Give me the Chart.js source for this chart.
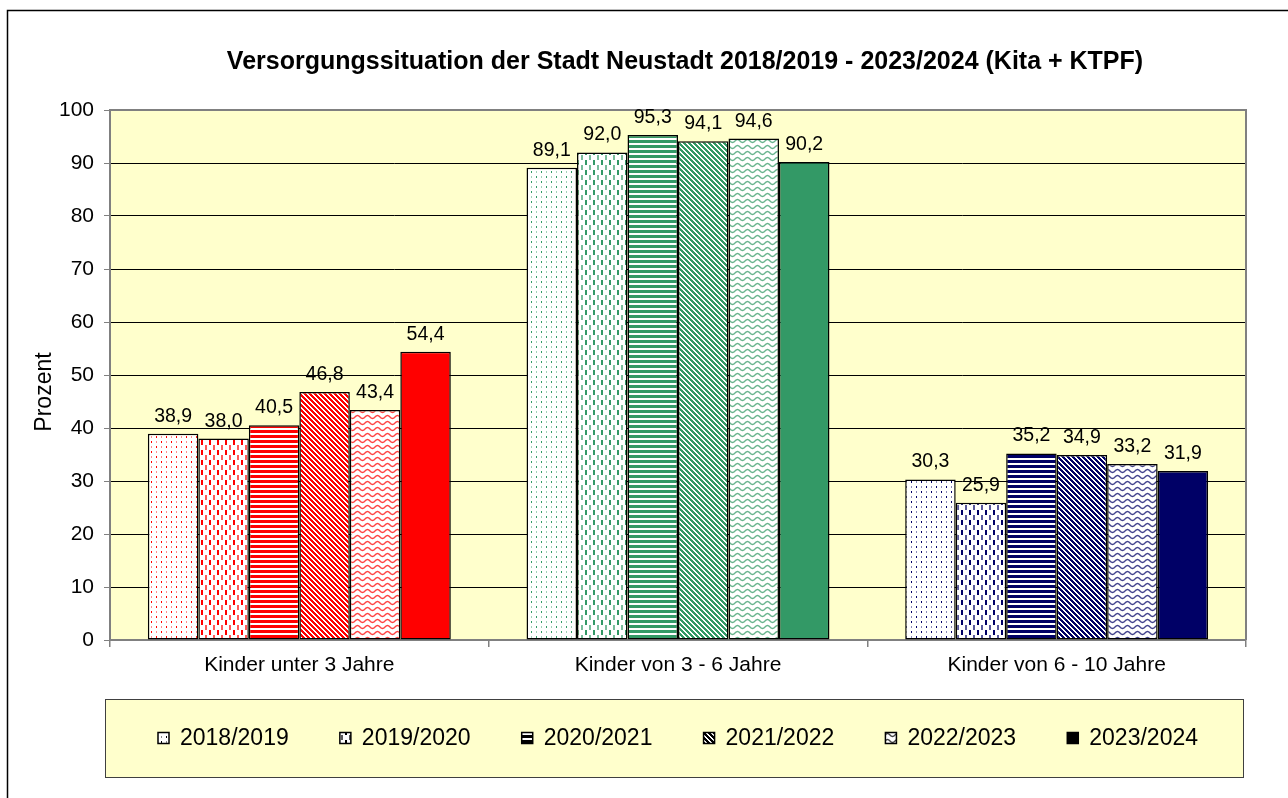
<!DOCTYPE html>
<html><head><meta charset="utf-8">
<script src="https://cdn.jsdelivr.net/npm/chart.js@4"></script>
<style>html,body{margin:0;padding:0;background:#fff;overflow:hidden}</style>
</head><body>
<canvas id="c" width="1288" height="798" style="display:block;width:1288px;height:798px"></canvas>
<script>
const TITLE = 'Versorgungssituation der Stadt Neustadt 2018/2019 - 2023/2024 (Kita + KTPF)';
const AXIS_TITLE = 'Prozent';
const categories = ['Kinder unter 3 Jahre', 'Kinder von 3 - 6 Jahre', 'Kinder von 6 - 10 Jahre'];
const seriesLabels = ['2018/2019', '2019/2020', '2020/2021', '2021/2022', '2022/2023', '2023/2024'];
const v2018 = [38.9, 89.1, 30.3];
const v2019 = [38.0, 92.0, 25.9];
const v2020 = [40.5, 95.3, 35.2];
const v2021 = [46.8, 94.1, 34.9];
const v2022 = [43.4, 94.6, 33.2];
const v2023 = [54.4, 90.2, 31.9];
const seriesValues = [v2018, v2019, v2020, v2021, v2022, v2023];
const yMin = 0, yMax = 100, yStep = 10;

const FONT = '"Liberation Sans", Arial, sans-serif';
const catColors = ['#FF0000', '#339966', '#000066'];
const patternTypes = ['dots', 'vdash', 'hstripe', 'diag', 'wave', 'solid'];

const canvas = document.getElementById('c');
const mainCtx = canvas.getContext('2d');

function tile(w, h, draw) {
  const c = document.createElement('canvas');
  c.width = w; c.height = h;
  const x = c.getContext('2d');
  x.fillStyle = '#fff'; x.fillRect(0, 0, w, h);
  draw(x);
  return c;
}
function pattern(type, color) {
  let t;
  switch (type) {
    case 'dots':
      t = tile(10, 10, x => {
        x.fillStyle = color;
        x.fillRect(1, 1, 1, 2); x.fillRect(6, 6, 1, 2);
        x.globalAlpha = 0.45;
        x.fillRect(1, 6, 1, 2); x.fillRect(6, 1, 1, 2);
      }); break;
    case 'vdash':
      t = tile(8, 10, x => {
        x.fillStyle = color;
        x.fillRect(1, 0, 2, 5);
        x.globalAlpha = 0.65;
        x.fillRect(5, 5, 2, 5);
      }); break;
    case 'hstripe':
      t = tile(4, 5, x => { x.fillStyle = color; x.fillRect(0, 0, 4, 3); }); break;
    case 'diag':
      t = tile(5, 5, x => {
        x.fillStyle = color;
        for (let i = 0; i < 5; i++) for (let j = 0; j < 5; j++)
          if ((((i - j) % 5) + 5) % 5 < 3) x.fillRect(i, j, 1, 1);
      }); break;
    case 'wave':
      t = tile(10, 6, x => {
        x.strokeStyle = color; x.lineWidth = 1.4; x.globalAlpha = 0.75;
        x.beginPath();
        for (let i = -1; i <= 11; i += 0.5) {
          const y = 3 + 1.5 * Math.sin(i / 10 * 2 * Math.PI);
          if (i === -1) x.moveTo(i, y); else x.lineTo(i, y);
        }
        x.stroke();
      }); break;
    default:
      return color;
  }
  return mainCtx.createPattern(t, 'repeat');
}

const datasets = seriesValues.map((vals, si) => ({
  label: seriesLabels[si],
  data: vals,
  backgroundColor: catColors.map(c => pattern(patternTypes[si], c)),
  borderColor: '#000',
  borderWidth: 1.5,
  borderSkipped: false,
  barPercentage: 1.0,
  categoryPercentage: 0.8
}));

const legendPatterns = patternTypes.map(t => pattern(t, '#000'));

const bgPlugin = {
  id: 'bgPlugin',
  beforeDraw(chart) {
    const { ctx, chartArea: a } = chart;
    ctx.save();
    ctx.fillStyle = '#fff';
    ctx.fillRect(0, 0, chart.width, chart.height);
    ctx.strokeStyle = '#000'; ctx.lineWidth = 1.5;
    ctx.beginPath();
    ctx.moveTo(7.5, chart.height); ctx.lineTo(7.5, 10.5); ctx.lineTo(chart.width, 10.5);
    ctx.stroke();
    ctx.fillStyle = '#FFFFCC';
    ctx.fillRect(a.left, a.top, a.right - a.left, a.bottom - a.top);
    ctx.fillStyle = '#000';
    ctx.font = 'bold 25px ' + FONT;
    ctx.textAlign = 'center'; ctx.textBaseline = 'middle';
    ctx.fillText(TITLE, (a.left + a.right) / 2 + 7, 62);
    ctx.save();
    ctx.translate(45, a.top + (a.bottom - a.top) / 2 + 17);
    ctx.rotate(-Math.PI / 2);
    ctx.font = '23px ' + FONT;
    ctx.fillText(AXIS_TITLE, 0, 0);
    ctx.restore();
    ctx.restore();
  },
  beforeDatasetsDraw(chart) {
    const { ctx, chartArea: a } = chart;
    ctx.save();
    ctx.strokeStyle = '#808080'; ctx.lineWidth = 2;
    ctx.beginPath();
    ctx.moveTo(a.left, a.top); ctx.lineTo(a.right, a.top); ctx.lineTo(a.right, a.bottom);
    ctx.stroke();
    ctx.restore();
  },
  afterDatasetsDraw(chart) {
    const { ctx } = chart;
    ctx.save();
    ctx.fillStyle = '#000';
    ctx.font = '19.5px ' + FONT;
    ctx.textAlign = 'center'; ctx.textBaseline = 'alphabetic';
    chart.data.datasets.forEach((ds, i) => {
      chart.getDatasetMeta(i).data.forEach((bar, j) => {
        ctx.fillText(ds.data[j].toFixed(1).replace('.', ','), bar.x, bar.y - 12);
      });
    });
    ctx.restore();
  },
  afterDraw(chart) {
    const { ctx, chartArea: a } = chart;
    const L = a.left - 5, R = a.right - 3, T = a.bottom + 59, B = a.bottom + 137;
    ctx.save();
    ctx.fillStyle = '#FFFFCC';
    ctx.fillRect(L, T, R - L, B - T);
    ctx.strokeStyle = '#404040'; ctx.lineWidth = 1;
    ctx.strokeRect(L + 0.5, T + 0.5, R - L, B - T);
    ctx.font = '23px ' + FONT;
    const box = 11, gapBox = 11;
    const widths = seriesLabels.map(s => box + gapBox + ctx.measureText(s).width);
    const total = widths.reduce((p, c) => p + c, 0);
    const startX = L + 53, endX = R - 45;
    const gap = ((endX - startX) - total) / (seriesLabels.length - 1);
    let x = startX;
    const cy = (T + B) / 2;
    ctx.textAlign = 'left'; ctx.textBaseline = 'middle';
    seriesLabels.forEach((s, i) => {
      ctx.fillStyle = legendPatterns[i];
      ctx.fillRect(x, cy - box / 2, box, box);
      ctx.strokeStyle = '#000'; ctx.lineWidth = 1.5;
      ctx.strokeRect(x, cy - box / 2, box, box);
      ctx.fillStyle = '#000';
      ctx.fillText(s, x + box + gapBox, cy + 1);
      x += widths[i] + gap;
    });
    ctx.restore();
  }
};

new Chart(canvas, {
  type: 'bar',
  data: { labels: categories, datasets },
  options: {
    responsive: false,
    devicePixelRatio: 1,
    animation: false,
    layout: { padding: { left: 20, right: 42, top: 110, bottom: 108 } },
    plugins: { legend: { display: false }, title: { display: false }, tooltip: { enabled: false } },
    scales: {
      x: {
        grid: { display: true, drawOnChartArea: false, drawTicks: true, tickLength: 7, color: '#808080', lineWidth: 1.5, offset: true },
        border: { display: true, color: '#808080', width: 2 },
        ticks: { color: '#000', font: { family: FONT, size: 21 }, padding: 6, maxRotation: 0 },
        afterFit(s) { s.height = 50; }
      },
      y: {
        min: yMin, max: yMax,
        ticks: { stepSize: yStep, color: '#000', font: { family: FONT, size: 21 }, padding: 10 },
        grid: { color: '#000', tickColor: '#808080', lineWidth: 1, tickLength: 6 },
        border: { display: true, color: '#808080', width: 2 },
        afterFit(s) { s.width = 90; }
      }
    }
  },
  plugins: [bgPlugin]
});
</script>
</body></html>
